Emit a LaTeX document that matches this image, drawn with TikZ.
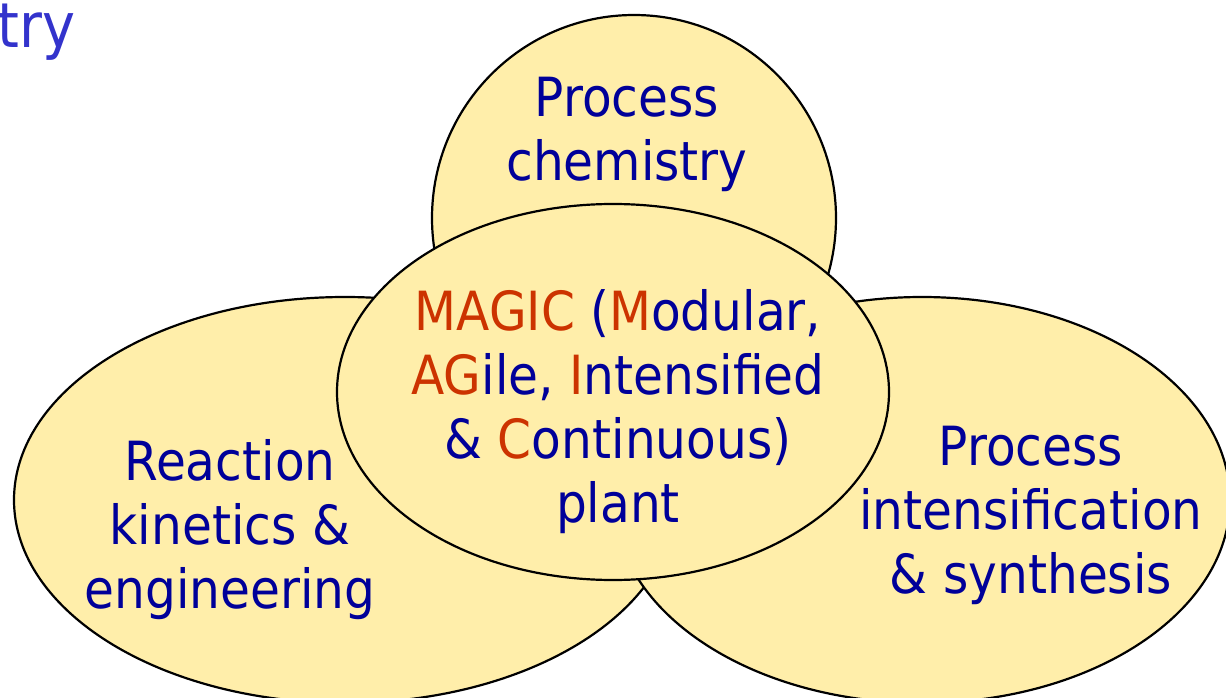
\documentclass[tikz,border=0pt]{standalone}
\usepackage{fontspec}
\setmainfont{DejaVu Sans}[FakeStretch=0.9]
\usetikzlibrary{shapes.geometric}
\definecolor{fillY}{HTML}{FFEEAA}
\definecolor{txtB}{HTML}{000099}
\definecolor{txtR}{HTML}{CC3300}
\definecolor{ttl}{HTML}{3333CC}
\begin{document}
\begin{tikzpicture}[x=1pt,y=-1pt,
  blob/.style={ellipse,draw=black,line width=2.2pt,fill=fillY,inner sep=0pt},
  lbl/.style={text=txtB,align=center,inner sep=0pt,anchor=base,font=\fontsize{54}{64}\selectfont},
  hl/.style={text=txtR}]
\useasboundingbox (0,0) rectangle (1226,698);
\clip (0,0) rectangle (1226,698);
\node[blob,minimum width=404pt,minimum height=406pt] (top) at (634,218) {};
\node[blob,minimum width=662pt,minimum height=406pt] (left) at (345,500) {};
\node[blob,minimum width=616pt,minimum height=406pt] (right) at (922,500) {};
\node[blob,minimum width=552pt,minimum height=376pt] (mid) at (613,392) {};
\node[text=ttl,anchor=base east,inner sep=0pt,font=\fontsize{62}{72}\selectfont] (title) at (76,48) {try};
\node[lbl] (toptxt) at (627,180) {Process\\chemistry};
\node[lbl] (lefttxt) at (230,608) {Reaction\\kinetics \&\\engineering};
\node[lbl] (righttxt) at (1031,593) {Process\\intensification\\\& synthesis};
\node[lbl] (midtxt) at (618,522) {\textcolor{txtR}{MAGIC} (\textcolor{txtR}{M}odular,\\\textcolor{txtR}{AG}ile, \textcolor{txtR}{I}ntensified\\\& \textcolor{txtR}{C}ontinuous)\\plant};
\end{tikzpicture}
\end{document}
